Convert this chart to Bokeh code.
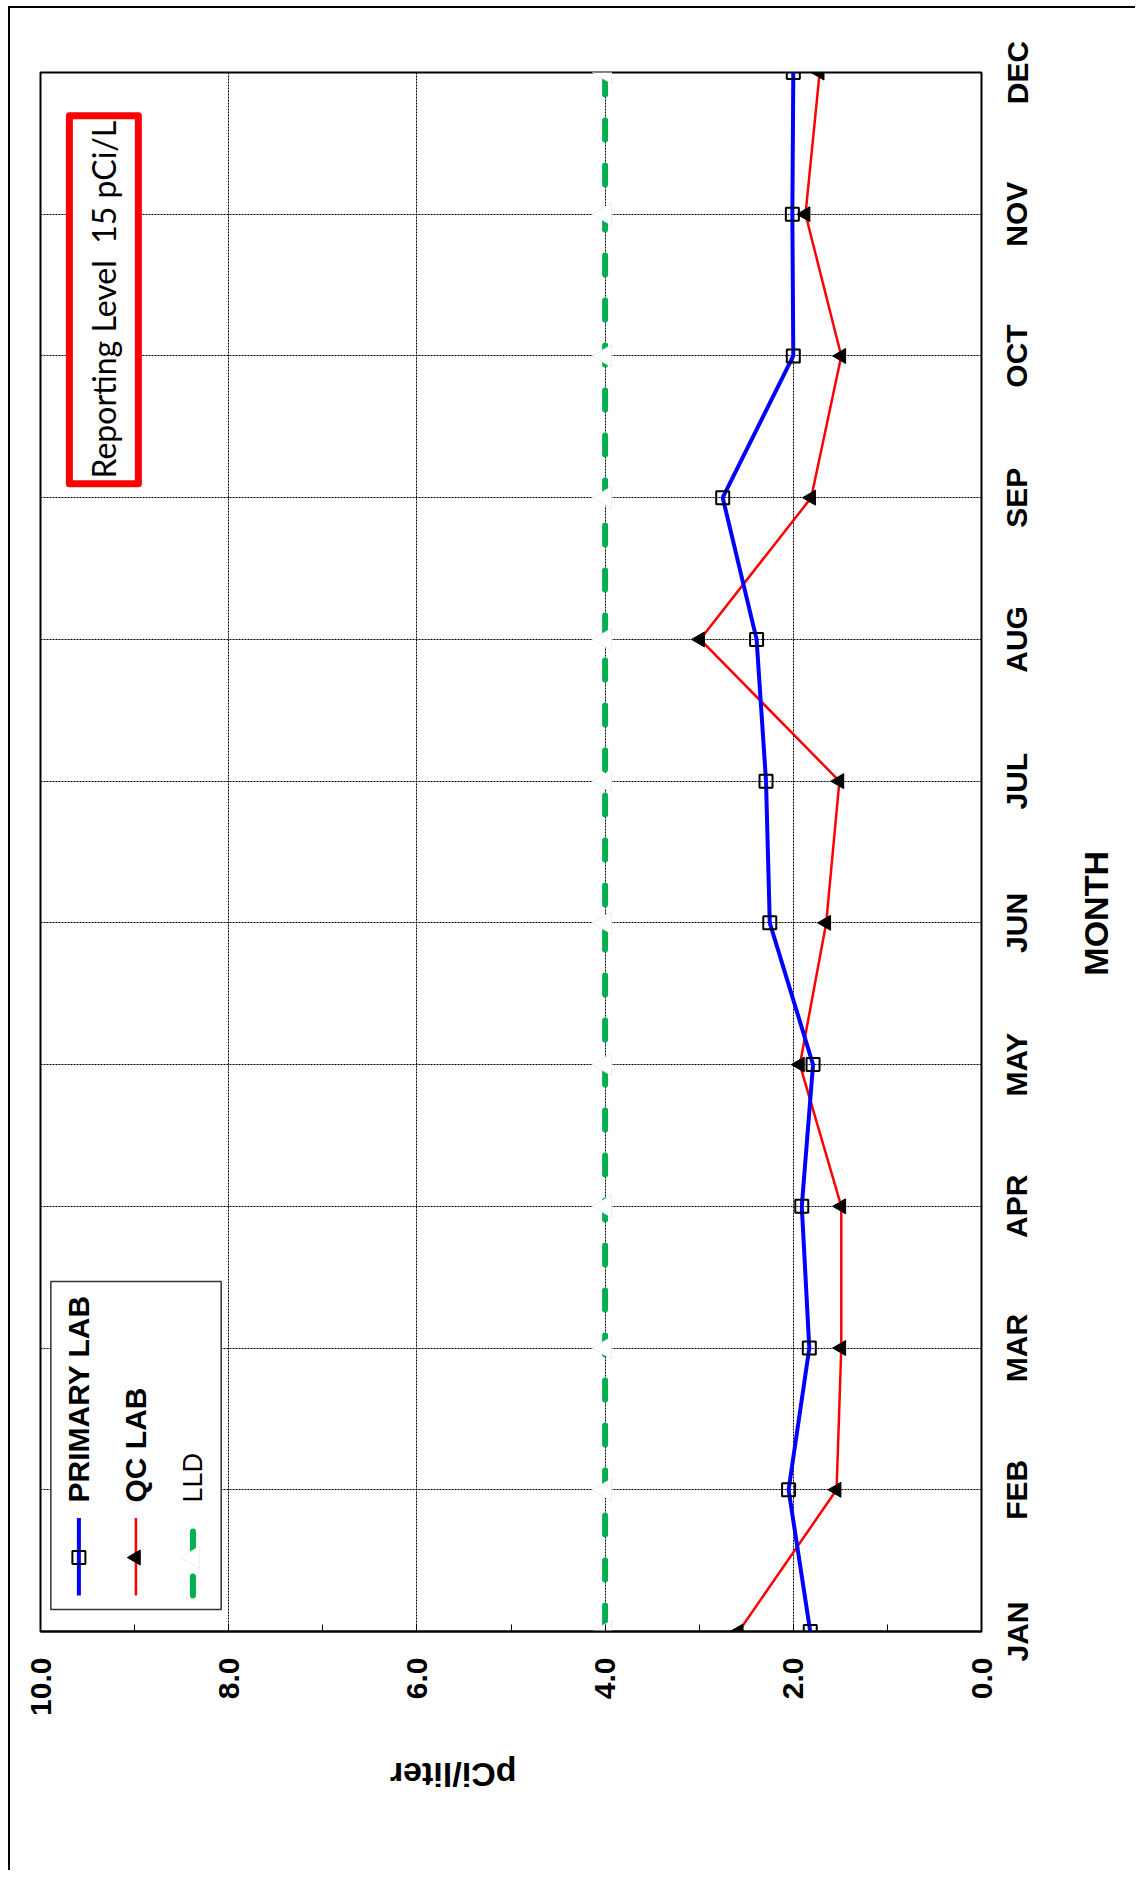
import math
from bokeh.plotting import figure
from bokeh.layouts import row
from bokeh.models import Range1d, FixedTicker, Label, LinearAxis
from bokeh.embed import file_html
from bokeh.resources import INLINE

# ---- data ----
months = ["JAN", "FEB", "MAR", "APR", "MAY", "JUN", "JUL", "AUG", "SEP", "OCT", "NOV", "DEC"]
month_pos = [0, 1, 2, 3, 4, 5, 6, 7, 8, 9, 10, 11]
primary_lab = [1.82, 2.05, 1.83, 1.91, 1.79, 2.25, 2.29, 2.39, 2.75, 2.00, 2.01, 2.00]
qc_lab = [2.58, 1.54, 1.49, 1.49, 1.93, 1.65, 1.51, 2.99, 1.81, 1.49, 1.87, 1.72]
lld = [4.0, 4.0, 4.0, 4.0, 4.0, 4.0, 4.0, 4.0, 4.0, 4.0, 4.0, 4.0]
value_ticks = [0, 2, 4, 6, 8, 10]
value_tick_labels = ["0.0", "2.0", "4.0", "6.0", "8.0", "10.0"]
value_minor_ticks = [1, 3, 5, 7, 9]
legend_labels = ["PRIMARY LAB", "QC LAB", "LLD"]
reporting_text = "Reporting Level\u00a0 15 pCi/L"
value_title = "pCi/liter"
month_title = "MONTH"

ARIAL = "Liberation Sans"
H = 1862
TOP, BOTTOM = 64, 239

# ---------------- main plot (values across, months up) ----------------
p = figure(width=987, height=H, output_backend="svg", toolbar_location=None,
           x_range=Range1d(10, 0), y_range=Range1d(0, 11),
           x_axis_location="below", y_axis_location=None,
           min_border_left=30, min_border_right=16,
           min_border_top=TOP, min_border_bottom=BOTTOM)
p.background_fill_color = "white"
p.border_fill_color = "white"
p.outline_line_color = "black"
p.outline_line_width = 2

xa = p.xaxis[0]
xa.ticker = FixedTicker(ticks=value_ticks, minor_ticks=value_minor_ticks)
xa.major_label_overrides = {t: l for t, l in zip(value_ticks, value_tick_labels)}
xa.major_label_orientation = math.pi / 2
xa.major_label_standoff = 26
xa.major_label_text_font = ARIAL
xa.major_label_text_font_style = "bold"
xa.major_label_text_font_size = "30px"
xa.major_label_text_color = "black"
xa.axis_line_color = "black"
xa.axis_line_width = 2
xa.major_tick_in = 7
xa.major_tick_out = 0
xa.minor_tick_in = 7
xa.minor_tick_out = 0
xa.major_tick_line_color = "black"
xa.minor_tick_line_color = "black"

# upside-down value-axis title, as the single label of a second bottom axis
title_tick = 6.287
title_axis = LinearAxis(ticker=FixedTicker(ticks=[title_tick]),
                        major_label_overrides={title_tick: value_title},
                        major_label_orientation=math.pi, major_label_standoff=50,
                        major_label_text_font=ARIAL, major_label_text_font_style="bold",
                        major_label_text_font_size="34px", major_label_text_color="black",
                        axis_line_color=None, major_tick_line_color=None,
                        minor_tick_line_color=None)
p.add_layout(title_axis, "below")

p.xgrid[0].ticker = FixedTicker(ticks=value_ticks)
p.ygrid[0].axis = None
p.ygrid[0].ticker = FixedTicker(ticks=month_pos)
for g in (p.xgrid[0], p.ygrid[0]):
    g.grid_line_color = "black"
    g.grid_line_width = 1
    g.grid_line_dash = "2 1"

# LLD
p.line(x=lld, y=month_pos, line_color="#00B050", line_width=6,
       line_dash="19 26", line_dash_offset=38, line_cap="round")
p.scatter(x=lld, y=month_pos, marker="triangle", size=22, angle=math.pi / 2,
          fill_color="white", line_color="#eeeeee", line_width=1)

# QC lab
p.line(x=qc_lab, y=month_pos, line_color="#FF0000", line_width=2.5)
p.scatter(x=qc_lab, y=month_pos, marker="triangle", size=15, angle=math.pi / 2,
          fill_color="black", line_color="black")

# Primary lab
p.line(x=primary_lab, y=month_pos, line_color="#0000FF", line_width=4)
p.scatter(x=primary_lab, y=month_pos, marker="square", size=13,
          fill_alpha=0, line_color="black", line_width=2)

# ---- rotated legend ----
p.quad(left=[9.89], right=[8.08], top=[2.47], bottom=[0.155],
       fill_color="white", line_color="#333333", line_width=1.5)
leg_x = [9.592, 8.986, 8.38]
p.segment(x0=[leg_x[0]], y0=[0.254], x1=[leg_x[0]], y1=[0.80], line_color="#0000FF", line_width=4)
p.scatter(x=[leg_x[0]], y=[0.522], marker="square", size=13, fill_alpha=0,
          line_color="black", line_width=2)
p.segment(x0=[leg_x[1]], y0=[0.254], x1=[leg_x[1]], y1=[0.80], line_color="#FF0000", line_width=2.5)
p.scatter(x=[leg_x[1]], y=[0.522], marker="triangle", size=15, angle=math.pi / 2,
          fill_color="black", line_color="black")
p.segment(x0=[leg_x[2]], y0=[0.254], x1=[leg_x[2]], y1=[0.80], line_color="#00B050", line_width=6,
          line_dash="19 26", line_dash_offset=0, line_cap="round")
p.scatter(x=[leg_x[2]], y=[0.522], marker="triangle", size=22, angle=math.pi / 2,
          fill_color="white", line_color="#eeeeee", line_width=1)
for lx, txt, style, size in zip(leg_x, legend_labels, ["bold", "bold", "normal"], ["30px", "30px", "27px"]):
    p.add_layout(Label(x=lx, y=0.91, text=txt, angle=math.pi / 2, text_align="left",
                       text_baseline="middle", text_font=ARIAL, text_font_style=style,
                       text_font_size=size, text_color="black"))

# ---- reporting level box ----
p.quad(left=[9.693], right=[8.960], top=[10.695], bottom=[8.098],
       fill_color="white", line_color="#FF0000", line_width=7, line_join="round")
p.add_layout(Label(x=9.326, y=9.397, text=reporting_text, angle=math.pi / 2,
                   text_align="center", text_baseline="middle", text_font="Lato",
                   text_font_size="32px", text_color="black"))

# ---------------- month axis strip (shares the month range) ----------------
q = figure(width=138, height=H, output_backend="svg", toolbar_location=None,
           x_range=Range1d(0, 1), y_range=p.y_range,
           x_axis_location=None, y_axis_location="left",
           min_border_left=38, min_border_right=0,
           min_border_top=TOP, min_border_bottom=BOTTOM)
q.background_fill_color = "white"
q.border_fill_color = "white"
q.outline_line_color = None
for g in q.grid:
    g.visible = False
qa = q.yaxis[0]
qa.ticker = FixedTicker(ticks=month_pos)
qa.major_label_overrides = {i: m for i, m in zip(month_pos, months)}
qa.major_label_orientation = "parallel"
qa.major_label_standoff = 0
qa.major_label_text_font = ARIAL
qa.major_label_text_font_style = "bold"
qa.major_label_text_font_size = "30px"
qa.major_label_text_color = "black"
qa.axis_line_color = None
qa.major_tick_line_color = None
qa.minor_tick_line_color = None
q.add_layout(Label(x=98, y=5.067, x_units="canvas", text=month_title, angle=math.pi / 2,
                   text_align="center", text_baseline="middle", text_font=ARIAL,
                   text_font_style="bold", text_font_size="34px", text_color="black"))

layout = row(p, q)
layout.styles = {"margin-left": "8px", "margin-top": "6px",
                 "border-top": "2px solid black", "border-left": "2px solid black"}

open("out.html", "w").write(file_html(layout, INLINE))
